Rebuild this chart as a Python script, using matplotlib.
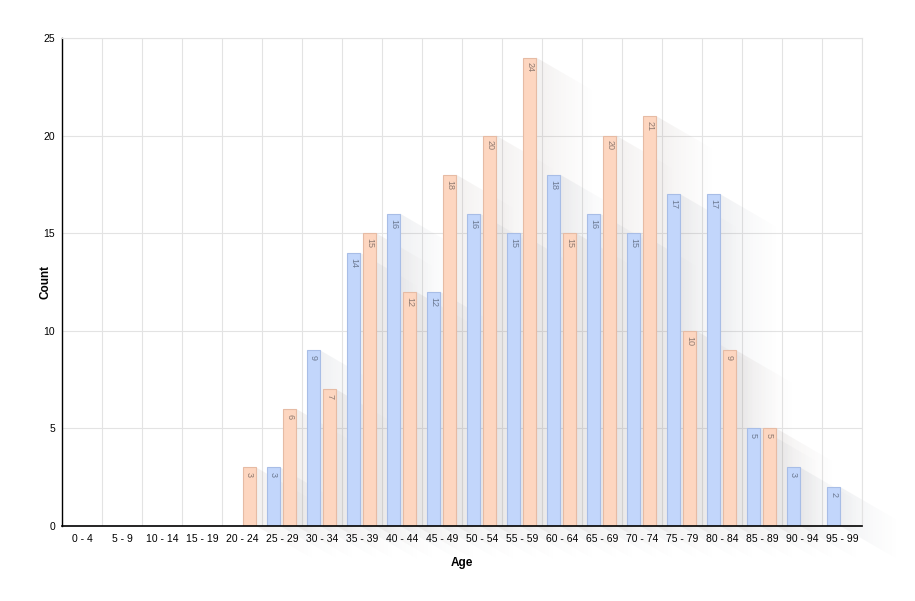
import numpy as np
import matplotlib.pyplot as plt
from matplotlib.patches import Polygon
from matplotlib.colors import to_rgb

plt.rcParams['font.family'] = ['Liberation Sans', 'DejaVu Sans']

ages = ['0 - 4', '5 - 9', '10 - 14', '15 - 19', '20 - 24', '25 - 29', '30 - 34',
        '35 - 39', '40 - 44', '45 - 49', '50 - 54', '55 - 59', '60 - 64', '65 - 69',
        '70 - 74', '75 - 79', '80 - 84', '85 - 89', '90 - 94', '95 - 99']
blue_counts = [0, 0, 0, 0, 0, 3, 9, 14, 16, 12, 16, 15, 18, 16, 15, 17, 17, 5, 3, 2]
orange_counts = [0, 0, 0, 0, 3, 6, 7, 15, 12, 18, 20, 24, 15, 20, 21, 10, 9, 5, 0, 0]

fig = plt.figure(figsize=(9.15, 6.01), dpi=100)
ax = fig.add_axes([62 / 915, 75 / 601, 800 / 915, 488 / 601])

x = np.arange(len(ages))
w = 0.33
series = [
    (blue_counts, x - 0.21, '#c2d6fb', '#a8bde6', '#6d7a92', '#4a5670'),
    (orange_counts, x + 0.19, '#fdd6c0', '#e6bba4', '#8f7a70', '#6a5048'),
]

ax.set_xlim(-0.5, len(ages) - 0.5)
ax.set_ylim(0, 25)

# long diagonal shadows behind the bars (px -> data units)
px_x = 1 / 40.0
px_y = 25 / 488.0
sx = 62 * px_x
sy = -0.58 * 62 * px_y
fade = np.linspace(1, 0, 64) ** 1.3
for vals, pos, fc, ec, tc, shade in series:
    rgba = np.zeros((1, 64, 4))
    rgba[..., :3] = to_rgb(shade)
    rgba[..., 3] = 0.085 * fade
    for xi, v in zip(pos, vals):
        if v == 0:
            continue
        x1 = xi + w / 2
        x0 = xi - w / 2
        pts = [(x0 + 0.05, v), (x1, v), (x1 + sx, v + sy), (x1 + sx, sy),
               (x1, 0), (x0 + 0.05, 0)]
        poly = Polygon(pts, closed=True, facecolor='none', edgecolor='none',
                       transform=ax.transData)
        im = ax.imshow(rgba, extent=[x1, x1 + sx, sy, v], aspect='auto',
                       interpolation='bilinear', zorder=1)
        im.set_clip_path(poly)
        im.set_clip_box(fig.bbox)

for vals, pos, fc, ec, tc, shade in series:
    ax.bar(pos, vals, width=w, color=fc, edgecolor=ec, linewidth=0.8, zorder=3)
    for xi, v in zip(pos, vals):
        if v == 0:
            continue
        ax.text(xi, v - 0.25, str(v), rotation=270, ha='center', va='top',
                fontsize=6.5, color=tc, zorder=4)

ax.set_xlim(-0.5, len(ages) - 0.5)
ax.set_ylim(0, 25)
ax.set_xticks(x)
ax.set_xticklabels(ages)
ax.set_yticks([0, 5, 10, 15, 20, 25])
ax.set_xticks(np.arange(-0.5, len(ages)), minor=True)
ax.grid(True, which='minor', axis='x', color='#e3e3e3', linewidth=0.8, zorder=0)
ax.grid(True, which='major', axis='y', color='#e3e3e3', linewidth=0.8, zorder=0)
ax.set_axisbelow(True)
ax.tick_params(which='both', length=0, labelsize=7.5, pad=6)
ax.tick_params(axis='y', pad=5)

for s in ['top', 'right']:
    ax.spines[s].set_color('#e3e3e3')
    ax.spines[s].set_linewidth(0.8)
ax.spines['left'].set_color('black')
ax.spines['bottom'].set_color('black')
ax.spines['left'].set_linewidth(1)
ax.spines['bottom'].set_linewidth(1.2)
ax.spines['bottom'].set_zorder(5)

ax.set_xlabel('Age', fontsize=8.5, fontweight='bold', labelpad=9)
ax.set_ylabel('Count', fontsize=8.5, fontweight='bold', labelpad=-6)

fig.savefig('out.png', dpi=100)
